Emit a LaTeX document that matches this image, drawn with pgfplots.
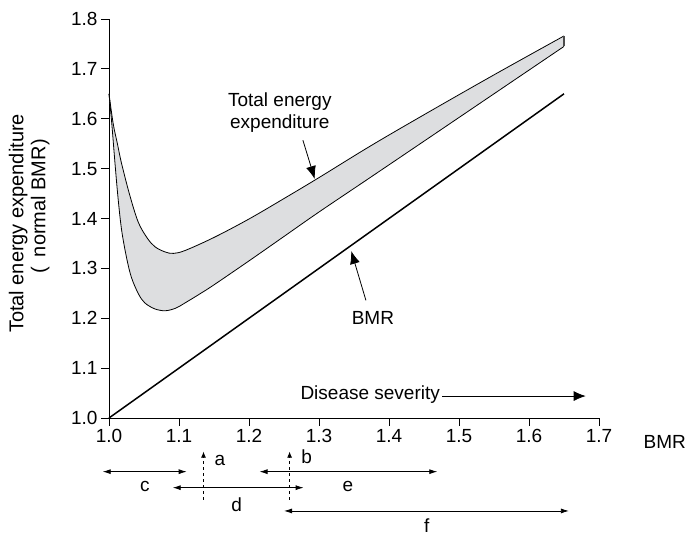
\documentclass[border=0pt]{standalone}
\usepackage{pgfplots}
\pgfplotsset{compat=1.18}
\usepgfplotslibrary{fillbetween}
\usetikzlibrary{arrows.meta}
\usepackage{fontspec}
\setmainfont{Liberation Sans}
\definecolor{bandgray}{RGB}{221,222,224}
\begin{document}
\begin{tikzpicture}[font=\fontsize{19}{22}\selectfont]
\begin{axis}[
  at={(109pt,119pt)}, anchor=south west,
  scale only axis, width=490pt, height=399pt,
  xmin=1.0, xmax=1.7, ymin=1.0, ymax=1.8,
  axis x line*=bottom, axis y line*=left,
  axis line style={-, line width=0.9pt},
  xtick={1.0,1.1,1.2,1.3,1.4,1.5,1.6,1.7},
  ytick={1.0,1.1,1.2,1.3,1.4,1.5,1.6,1.7,1.8},
  tick align=outside, major tick length=8pt,
  tick style={black, line width=0.9pt},
  /pgf/number format/assume math mode=true,
  /pgf/number format/fixed, /pgf/number format/fixed zerofill, /pgf/number format/precision=1,
  ylabel={Total energy expenditure\\\hspace*{34pt}(\hspace{0.5em}normal BMR)},
  ylabel style={align=center, at={(axis description cs:-0.163,0.4875)}, anchor=center, font=\fontsize{20}{22}\selectfont},
  clip=false,
]
\addplot[name path=up, black, line width=0.8pt, smooth, tension=0.55] coordinates {
(1.000,1.650) (1.006,1.590) (1.012,1.550) (1.018,1.510) (1.030,1.445) (1.042,1.392)
(1.055,1.360) (1.066,1.343) (1.080,1.333) (1.092,1.330) (1.109,1.336) (1.150,1.362)
(1.200,1.399) (1.250,1.440) (1.300,1.482) (1.373,1.545) (1.450,1.608) (1.550,1.688)
(1.650,1.766)};
\addplot[name path=lo, black, line width=0.8pt, smooth, tension=0.55] coordinates {
(1.000,1.650) (1.004,1.590) (1.0086,1.510) (1.013,1.440) (1.018,1.377) (1.025,1.322)
(1.032,1.282) (1.042,1.249) (1.051,1.231) (1.065,1.219) (1.080,1.215) (1.095,1.220)
(1.109,1.231) (1.130,1.249) (1.150,1.267) (1.200,1.315) (1.250,1.364) (1.300,1.413)
(1.373,1.482) (1.450,1.555) (1.550,1.650) (1.650,1.745)};
\addplot[bandgray] fill between[of=up and lo];
\addplot[black!70, line width=1.2pt] coordinates {(1.65,1.745) (1.65,1.766)};
\addplot[black, line width=1.5pt] coordinates {(1.0,1.0) (1.65,1.65)};

% annotations
\node[align=center, inner sep=0pt] at (axis cs:1.244,1.613) {Total energy\\expenditure};
\draw[-{Latex[length=13pt,width=10pt]}, line width=0.8pt] (axis cs:1.277,1.557) -- (axis cs:1.294,1.479);
\node[inner sep=0pt] at (axis cs:1.377,1.200) {BMR};
\draw[-{Latex[length=13pt,width=10pt]}, line width=0.8pt] (axis cs:1.367,1.236) -- (axis cs:1.346,1.335);
\node[anchor=east, inner sep=0pt] at (axis cs:1.473,1.047) {Disease severity};
\draw[-{Latex[length=12pt,width=10pt]}, line width=0.8pt] (axis cs:1.476,1.044) -- (axis cs:1.681,1.044);
\node[inner sep=0pt] at (axis cs:1.794,0.9525) {BMR};

% below-axis ranges
\draw[{Latex[length=8pt,width=5pt]}-{Latex[length=8pt,width=5pt]}, line width=0.8pt] (axis cs:0.991,0.8924) -- (axis cs:1.111,0.8924);
\node[inner sep=0pt] at (axis cs:1.0514,0.8617) {c};
\draw[{Latex[length=8pt,width=5pt]}-{Latex[length=8pt,width=5pt]}, line width=0.8pt] (axis cs:1.091,0.8603) -- (axis cs:1.278,0.8603);
\node[inner sep=0pt] at (axis cs:1.1824,0.8257) {d};
\draw[{Latex[length=8pt,width=5pt]}-{Latex[length=8pt,width=5pt]}, line width=0.8pt] (axis cs:1.215,0.8924) -- (axis cs:1.469,0.8924);
\node[inner sep=0pt] at (axis cs:1.3414,0.8617) {e};
\draw[{Latex[length=8pt,width=5pt]}-{Latex[length=8pt,width=5pt]}, line width=0.8pt] (axis cs:1.250,0.8136) -- (axis cs:1.657,0.8136);
\node[inner sep=0pt] at (axis cs:1.4539,0.7846) {f};
\draw[dashed, -{Latex[length=6pt,width=5pt]}, line width=0.8pt] (axis cs:1.135,0.8357) -- (axis cs:1.135,0.9325);
\node[inner sep=0pt] at (axis cs:1.1586,0.9158) {a};
\draw[dashed, -{Latex[length=6pt,width=5pt]}, line width=0.8pt] (axis cs:1.258,0.8357) -- (axis cs:1.258,0.9325);
\node[inner sep=0pt] at (axis cs:1.2824,0.9224) {b};
\end{axis}
\pgfresetboundingbox
\path[use as bounding box] (0,0) rectangle (689pt,537pt);
\end{tikzpicture}
\end{document}
